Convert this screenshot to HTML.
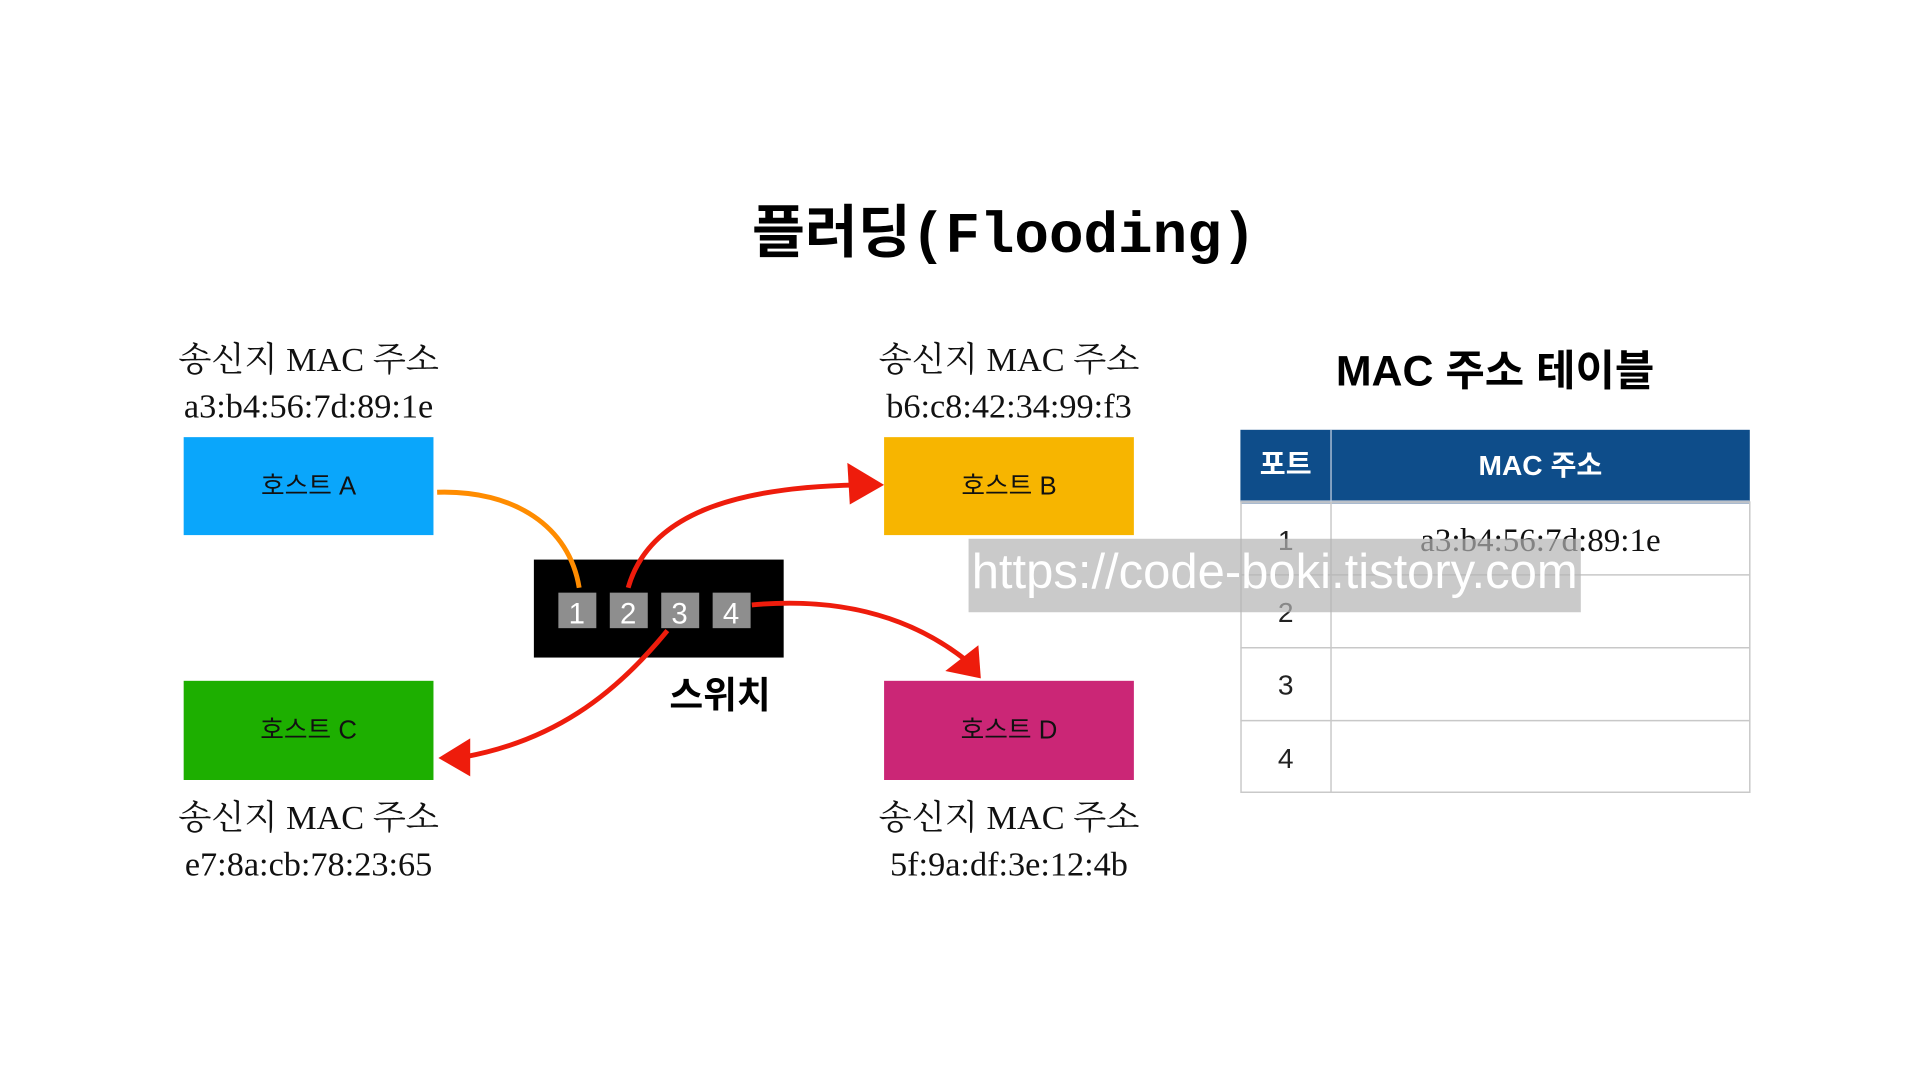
<!DOCTYPE html>
<html><head><meta charset="utf-8"><style>
html,body{margin:0;padding:0;background:#fff;}
svg{display:block;}
.kr{font-family:"Liberation Sans","Noto Sans CJK KR",sans-serif;}
.sf{font-family:"Liberation Serif","Noto Serif CJK SC","Noto Sans CJK KR",serif;}
</style></head><body>
<svg width="1920" height="1080" viewBox="0 0 1568 882" xmlns="http://www.w3.org/2000/svg">
<rect width="1568" height="882" fill="#fff"/>
<text x="820" y="206" text-anchor="middle" font-weight="bold" font-size="47"><tspan class="kr">플러딩</tspan><tspan font-family="Liberation Mono, monospace">(Flooding)</tspan></text>

<g class="sf" font-size="28" text-anchor="middle" fill="#111">
<text x="252" y="303">송신지 MAC 주소</text><text x="252" y="341">a3:b4:56:7d:89:1e</text>
<text x="824" y="303">송신지 MAC 주소</text><text x="824" y="341">b6:c8:42:34:99:f3</text>
<text x="252" y="677">송신지 MAC 주소</text><text x="252" y="715">e7:8a:cb:78:23:65</text>
<text x="824" y="677">송신지 MAC 주소</text><text x="824" y="715">5f:9a:df:3e:12:4b</text>
</g>

<rect x="150" y="357" width="204" height="80" fill="#0aa6fb"/>
<rect x="722" y="357" width="204" height="80" fill="#f7b500"/>
<rect x="150" y="556" width="204" height="81" fill="#1daf00"/>
<rect x="722" y="556" width="204" height="81" fill="#cb2676"/>
<g class="kr" font-size="21" text-anchor="middle" fill="#111">
<text x="252" y="404">호스트 A</text><text x="824" y="404">호스트 B</text>
<text x="252" y="603">호스트 C</text><text x="824" y="603">호스트 D</text>
</g>

<rect x="436" y="457" width="204" height="80" fill="#000"/>
<g fill="#8e8e8e">
<rect x="456" y="484" width="31" height="29"/><rect x="498" y="484" width="31" height="29"/>
<rect x="540" y="484" width="31" height="29"/><rect x="582" y="484" width="31" height="29"/>
</g>
<g class="kr" font-size="24" fill="#fff" text-anchor="middle">
<text x="471" y="509">1</text><text x="513" y="509">2</text><text x="555" y="509">3</text><text x="597" y="509">4</text>
</g>
<text x="588" y="578" class="kr" font-size="30" font-weight="bold" text-anchor="middle">스위치</text>

<path d="M357 402 C420 400 465 430 473 480" stroke="#ff8c00" stroke-width="4" fill="none"/>
<path d="M513 480 C530 420 600 398 700 396" stroke="#ee1c0c" stroke-width="4" fill="none"/>
<polygon points="692,378 722,396 694,412" fill="#ee1c0c"/>
<path d="M614 494 C680 488 740 500 790 540" stroke="#ee1c0c" stroke-width="4" fill="none"/>
<polygon points="772,548 799,527 801,554" fill="#ee1c0c"/>
<path d="M545 515 C500 570 450 605 380 618" stroke="#ee1c0c" stroke-width="4" fill="none"/>
<polygon points="384,603 358,619 384,634" fill="#ee1c0c"/>

<text x="1221" y="315" class="kr" font-size="35" font-weight="bold" text-anchor="middle">MAC 주소 테이블</text>
<rect x="1013" y="351" width="416" height="59" fill="#0e4d8a"/>
<line x1="1013" y1="410" x2="1429" y2="410" stroke="#9db0c8" stroke-width="3"/>
<g stroke="#c8c8c8" stroke-width="1.2" fill="none">
<rect x="1013.5" y="410" width="415.5" height="237"/>
<line x1="1013" y1="469.5" x2="1429" y2="469.5"/>
<line x1="1013" y1="529" x2="1429" y2="529"/>
<line x1="1013" y1="588.5" x2="1429" y2="588.5"/>
<line x1="1087" y1="410" x2="1087" y2="647"/>
</g>
<line x1="1087" y1="351" x2="1087" y2="410" stroke="#c8d4e4" stroke-width="1"/>
<g class="kr" font-size="23" fill="#fff" text-anchor="middle" font-weight="bold">
<text x="1050" y="387">포트</text><text x="1258" y="388">MAC 주소</text>
</g>
<g class="kr" font-size="23" fill="#222" text-anchor="middle">
<text x="1050" y="449">1</text><text x="1050" y="508">2</text><text x="1050" y="567">3</text><text x="1050" y="627">4</text>
</g>
<text x="1258" y="450" class="sf" font-size="27" text-anchor="middle" fill="#111">a3:b4:56:7d:89:1e</text>

<rect x="791" y="440" width="500" height="60" fill="#b4b4b4" fill-opacity="0.7"/>
<text x="1041" y="480" class="kr" font-size="40" fill="#fff" text-anchor="middle">https://code-boki.tistory.com</text>
</svg>
</body></html>
